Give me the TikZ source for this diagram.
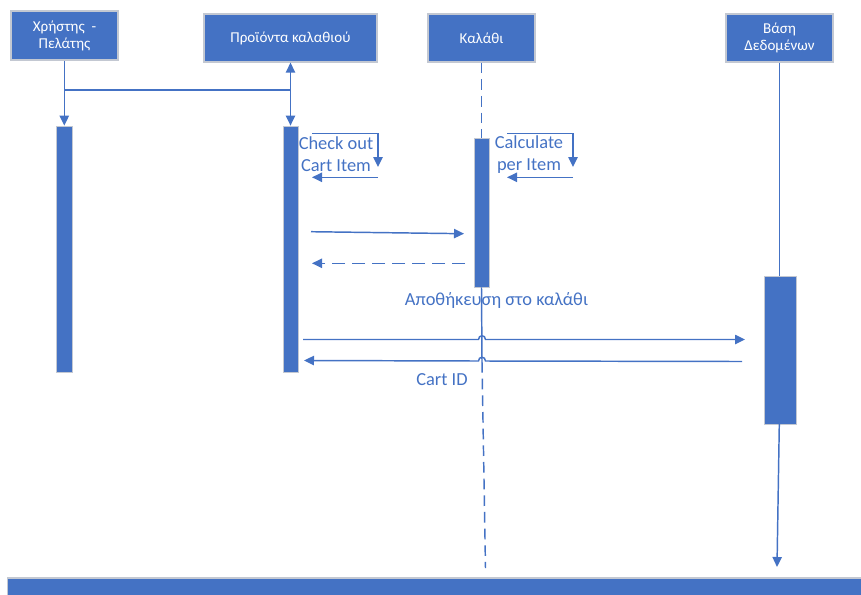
\documentclass[tikz,border=0pt]{standalone}
\usepackage{fontspec}
\setmainfont{Carlito}
\usetikzlibrary{arrows.meta}
\definecolor{ob}{HTML}{4472C4}
\definecolor{bd}{HTML}{C3C8D2}
\begin{document}
\begin{tikzpicture}[x=0.75pt,y=-0.75pt,
  box/.style={draw=bd, line width=0.9pt, fill=ob, text=white, font=\fontsize{11.3}{12.75}\selectfont, align=center, inner sep=0},
  act/.style={draw=bd, line width=0.6pt, fill=ob, inner sep=0},
  ln/.style={draw=ob, line width=1.1pt},
  arr/.style={ln, -{Triangle[length=7.5pt,width=7pt]}},
  dsh/.style={dash pattern=on 8pt off 4.5pt},
  dshr/.style={dash pattern=on 9.5pt off 5.5pt},
  lbl/.style={text=ob, font=\fontsize{13.8}{16.5}\selectfont, align=center, inner sep=0}]
\useasboundingbox (0,0) rectangle (861,594);

% header boxes
\node[box, minimum width=80.25pt, minimum height=36.75pt] (b1) at (64.5,35.5) {Χρήστης~ -\\Πελάτης};
\node[box, minimum width=129.75pt, minimum height=36pt] (b2) at (290.5,38) {Προϊόντα καλαθιού};
\node[box, minimum width=80.25pt, minimum height=36pt] (b3) at (481.5,38) {Καλάθι};
\node[box, minimum width=80.25pt, minimum height=36pt] (b4) at (779.5,38) {Βάση\\Δεδομένων};

% activation bars
\node[act, minimum width=12pt, minimum height=184.5pt] (a1) at (64,249) {};
\node[act, minimum width=11.25pt, minimum height=184.5pt] (a2) at (290.5,249) {};
\node[act, minimum width=11.25pt, minimum height=111.75pt] (a3) at (481.5,212.5) {};
\node[act, minimum width=24pt, minimum height=111pt] (a4) at (780,350) {};

% bottom bar
\fill[ob] (7.5,578) rectangle (862,596);
\draw[bd, line width=0.9pt] (7.5,598) -- (7.5,578) -- (862,578);

% lifelines 1 and 2
\coordinate (j1) at (64.3,90);
\coordinate (j2) at (290.5,90);
\draw[arr] (b1.south -| j1) -- (a1.north -| j1);
\draw[ln] (j1) -- (j2);
\draw[arr] (j2) -- (b2.south);
\draw[arr] (j2) -- (a2.north);

% lifeline 3 (Καλάθι)
\draw[ln, dsh] (b3.south) -- (a3.north);
\coordinate (l3m) at (482,362);
\coordinate (l3e) at (485.5,568);
\draw[ln] (a3.south) -- (l3m);
\draw[ln, dsh] (l3m) -- (l3e);

% lifeline 4 (Βάση Δεδομένων)
\coordinate (l4t) at (779.3,424);
\coordinate (l4e) at (777,567);
\draw[ln] (b4.south -| l4t) -- (a4.north -| l4t);
\draw[arr] (l4t) -- (l4e);

% self message on Προϊόντα καλαθιού
\coordinate (s1a) at (312,133.3);
\coordinate (s1b) at (378,133.3);
\coordinate (s1c) at (378,167);
\coordinate (s1d) at (378,177.3);
\coordinate (s1e) at (312,177.3);
\draw[arr] (s1a) -- (s1b) -- (s1c);
\draw[arr] (s1d) -- (s1e);
\node[lbl] (t1) at (336,154) {Check out\\Cart Item};

% self message on Καλάθι
\coordinate (s2a) at (507,133.3);
\coordinate (s2b) at (573,133.3);
\coordinate (s2c) at (573,167);
\coordinate (s2d) at (573,177.3);
\coordinate (s2e) at (507,177.3);
\draw[arr] (s2a) -- (s2b) -- (s2c);
\draw[arr] (s2d) -- (s2e);
\node[lbl] (t2) at (529,155) {Calculate\\per Item};

% messages between products and cart
\coordinate (m1s) at (311,231.7);
\coordinate (m1e) at (464,233.7);
\draw[arr] (m1s) -- (m1e);
\coordinate (m2s) at (465,263.3);
\coordinate (m2e) at (312,263.3);
\draw[arr, dshr] (m2s) -- (m2e);
\node[lbl] (t3) at (496.5,300) {Αποθήκευση στο καλάθι};

% messages to and from the database (jumping over the cart lifeline)
\coordinate (m3s) at (303,339.5);
\coordinate (m3e) at (745,339.5);
\draw[arr] (m3s) -- (478.5,339.5) .. controls (478.5,334.5) and (485.5,334.5) .. (485.5,339.5) -- (m3e);
\coordinate (m4s) at (742,361.5);
\coordinate (m4e) at (304,360.5);
\draw[arr] (m4s) -- (485.5,361) .. controls (485.5,356) and (478.5,356) .. (478.5,361) -- (m4e);
\node[lbl] (t4) at (442,379.5) {Cart ID};
\end{tikzpicture}
\end{document}
